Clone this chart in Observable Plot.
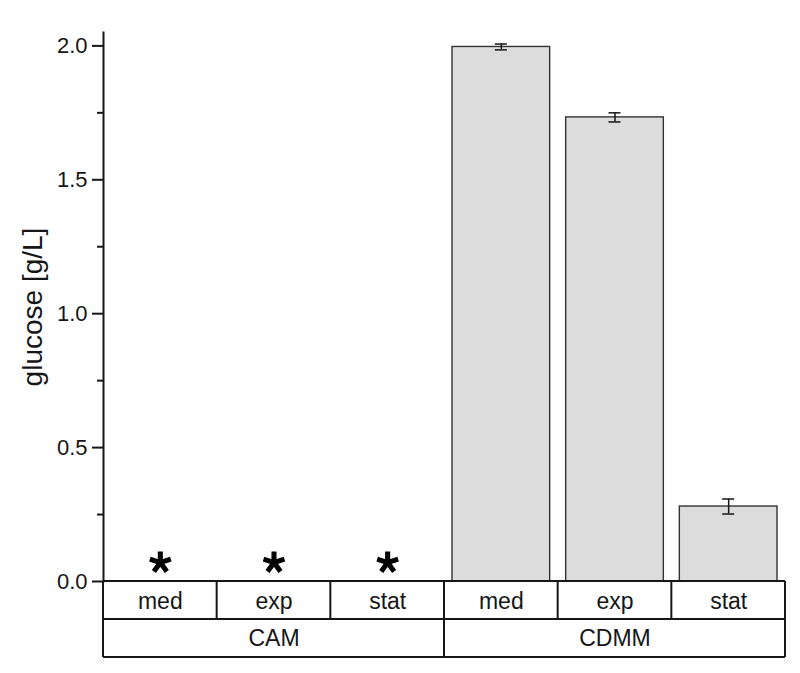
<!DOCTYPE html>
<html><head><meta charset="utf-8">
<script src="https://cdn.jsdelivr.net/npm/d3@7"></script>
<script src="https://cdn.jsdelivr.net/npm/@observablehq/plot@0.6"></script>
<style>body{margin:0;background:#fff} #chart svg{display:block}</style>
</head><body><div id="chart"></div>
<script>
// ---- data ----
const groups = ["CAM", "CAM", "CAM", "CDMM", "CDMM", "CDMM"];
const conditions = ["med", "exp", "stat", "med", "exp", "stat"];
const glucose = [0, 0, 0, 1.996, 1.733, 0.280];
const glucoseSD = [0, 0, 0, 0.011, 0.017, 0.028];
const belowDetection = [true, true, true, false, false, false];
const yMajorTicks = [0, 0.5, 1.0, 1.5, 2.0];
const yMinorTicks = [0.25, 0.75, 1.25, 1.75];
const yLabel = "glucose [g/L]";

// ---- build table ----
const data = groups.map((g, i) => ({
  key: g + "|" + conditions[i], group: g, condition: conditions[i],
  value: glucose[i], sd: glucoseSD[i], nd: belowDetection[i]
}));
const keys = data.map(d => d.key);
const measured = data.filter(d => !d.nd);
const notDetected = data.filter(d => d.nd);
const groupNames = [...new Set(groups)];
const groupCenters = groupNames.map(g => {
  const ks = data.filter(d => d.group === g).map(d => d.key);
  return {group: g, key: ks[Math.floor(ks.length / 2)]};
});

// bold five-armed asterisk symbol (marks "not detected")
const asteriskSymbol = {
  draw(context, size) {
    const r = Math.sqrt(size / Math.PI), w = 0.46 * r;
    for (let k = 0; k < 5; k++) {
      const a = (-90 + 72 * k) * Math.PI / 180;
      const dx = Math.cos(a), dy = Math.sin(a), px = -dy, py = dx;
      const b = -w / 2;
      context.moveTo(dx * b + px * w / 2, dy * b + py * w / 2);
      context.lineTo(dx * r + px * w / 2, dy * r + py * w / 2);
      context.lineTo(dx * r - px * w / 2, dy * r - py * w / 2);
      context.lineTo(dx * b - px * w / 2, dy * b - py * w / 2);
      context.closePath();
    }
  }
};

const W = 800, H = 673, mL = 103, mR = 15, mT = 32, mB = 92;
const step = (W - mL - mR) / keys.length;
const capW = 12;
const capInset = (step - capW) / 2;
const font = "'Liberation Sans', Arial, Helvetica, sans-serif";
const ink = "#161616";

const plot = Plot.plot({
  width: W, height: H,
  marginLeft: mL, marginRight: mR, marginTop: mT, marginBottom: mB,
  style: {fontFamily: font, fontSize: "22px", color: ink, background: "#fff", overflow: "visible"},
  x: {type: "band", domain: keys, padding: 0, round: false, axis: null},
  y: {domain: [0, 2.05], axis: null},
  marks: [
    Plot.barY(measured, {x: "key", y: "value", fill: "#dcdcdc", stroke: "#333", strokeWidth: 1.4, insetLeft: 8, insetRight: 8}),
    Plot.ruleX(measured, {x: "key", y1: d => d.value - d.sd, y2: d => d.value + d.sd, stroke: ink, strokeWidth: 1.5}),
    Plot.tickY(measured, {x: "key", y: d => d.value - d.sd, stroke: ink, strokeWidth: 1.5, insetLeft: capInset, insetRight: capInset}),
    Plot.tickY(measured, {x: "key", y: d => d.value + d.sd, stroke: ink, strokeWidth: 1.5, insetLeft: capInset, insetRight: capInset}),
    Plot.dot(notDetected, {x: "key", y: 0, dy: -19, r: 11, symbol: asteriskSymbol, fill: "#000", stroke: "none"}),
    Plot.axisY(yMajorTicks, {tickSize: 11, tickPadding: 5, tickFormat: d3.format(".1f"), fontSize: 22, strokeWidth: 2, label: null}),
    Plot.axisY(yMinorTicks, {tickSize: 6, tickFormat: () => "", strokeWidth: 2, label: null}),
    Plot.frame({anchor: "left", strokeWidth: 2, stroke: ink}),
    Plot.text([yLabel], {frameAnchor: "left", text: d => d, rotate: -90, textAnchor: "middle", dx: -70, fontSize: 28}),
    Plot.axisX({tickSize: 0, tickPadding: 11, tickFormat: k => k.split("|")[1], fontSize: 23, label: null}),
    Plot.text(groupCenters, {x: "key", frameAnchor: "bottom", text: "group", lineAnchor: "bottom", dy: 64, fontSize: 23})
  ]
});

// ---- category table grid, positioned from the x scale ----
const xs = plot.scale("x");
const x0 = xs.range[0];
const st = xs.step != null ? xs.step : (xs.range[1] - xs.range[0]) / xs.domain.length;
const yBase = H - mB, rowH = 38;
const g = d3.select(plot).append("g").attr("stroke", ink).attr("stroke-width", 2).attr("fill", "none");
[0, 1, 2].forEach(r => g.append("line").attr("x1", x0).attr("x2", x0 + st * keys.length).attr("y1", yBase + r * rowH).attr("y2", yBase + r * rowH));
keys.forEach((k, i) => g.append("line").attr("x1", x0 + i * st).attr("x2", x0 + i * st).attr("y1", yBase).attr("y2", yBase + rowH));
g.append("line").attr("x1", x0 + keys.length * st).attr("x2", x0 + keys.length * st).attr("y1", yBase).attr("y2", yBase + rowH);
let idx = 0;
const bounds = [0];
groupNames.forEach(gn => { idx += groups.filter(v => v === gn).length; bounds.push(idx); });
bounds.forEach(b => g.append("line").attr("x1", x0 + b * st).attr("x2", x0 + b * st).attr("y1", yBase + rowH).attr("y2", yBase + 2 * rowH));

document.getElementById("chart").append(plot);
</script>
</body></html>
